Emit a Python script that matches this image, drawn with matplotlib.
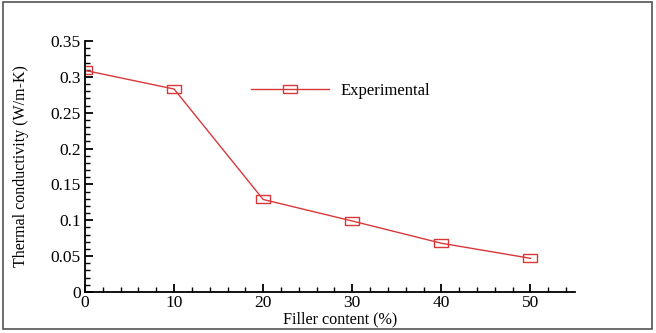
import numpy as np
import matplotlib.pyplot as plt
from matplotlib.ticker import MultipleLocator
from matplotlib.patches import Rectangle

plt.rcParams['font.family'] = ['Liberation Serif', 'DejaVu Serif']

# data
filler = [0, 10, 20, 30, 40, 50]
conductivity = [0.309, 0.283, 0.129, 0.099, 0.068, 0.047]

fig = plt.figure(figsize=(6.56, 3.33), dpi=100)
ax = fig.add_axes([0.1296, 0.1231, 0.7469, 0.7538])

# rectangular marker, wider than tall
rect = [(-1, -0.55), (1, -0.55), (1, 0.55), (-1, 0.55), (-1, -0.55)]
ax.plot(filler, conductivity, color='#d9383a', lw=1, marker=rect, ms=10,
        mfc='none', mec='#d9383a', mew=1, label='Experimental')

ax.set_xlim(0, 55)
ax.set_ylim(0, 0.35)
ax.set_xticks([0, 10, 20, 30, 40, 50])
ax.set_yticks(np.arange(0, 0.351, 0.05))
ax.set_yticklabels(['0', '0.05', '0.1', '0.15', '0.2', '0.25', '0.3', '0.35'])
ax.xaxis.set_minor_locator(MultipleLocator(2))
ax.yaxis.set_minor_locator(MultipleLocator(0.01))
ax.tick_params(which='major', direction='in', length=6, width=1.3, labelsize=12.5,
               colors='black', pad=3)
ax.tick_params(axis='x', which='major', pad=2)
ax.tick_params(which='minor', direction='in', length=3.5, width=1)
ax.spines['top'].set_visible(False)
ax.spines['right'].set_visible(False)
for s in ['left', 'bottom']:
    ax.spines[s].set_linewidth(1.3)

ax.set_xlabel('Filler content (%)', fontsize=11.6)
ax.xaxis.set_label_coords(0.52, -0.078)
ax.set_ylabel('Thermal conductivity (W/m-K)', fontsize=11.5)
ax.yaxis.set_label_coords(-0.115, 0.5)

leg = ax.legend(loc='center left', bbox_to_anchor=(0.339, 0.801), frameon=False,
                fontsize=12, handlelength=4.67, handletextpad=0.72,
                borderpad=0, borderaxespad=0)

fig.patches.append(Rectangle((0.004, 0.012), 0.99, 0.982, transform=fig.transFigure,
                             fill=False, edgecolor='#555555', lw=1.2))

fig.savefig('out.png', dpi=100)
